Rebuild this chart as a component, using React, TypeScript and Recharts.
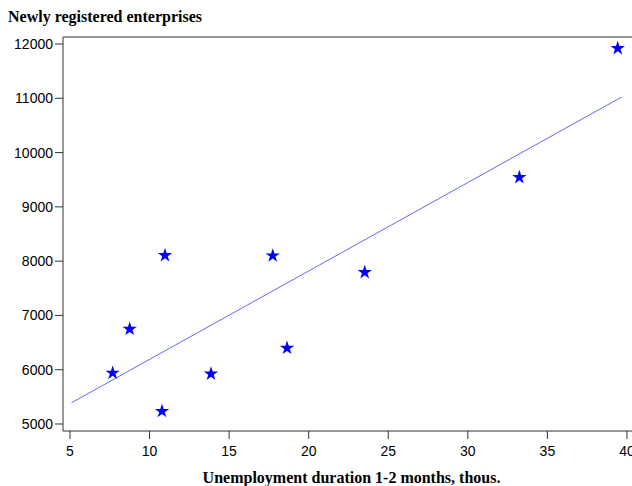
import React from "react";
import {
  ScatterChart,
  Scatter,
  XAxis,
  YAxis,
  ZAxis,
  ReferenceLine,
  Label,
} from "recharts";

// unemployment duration 1-2 months (thous.) vs newly registered enterprises
const unemployment = [7.68, 8.75, 10.78, 10.97, 13.86, 17.74, 18.64, 23.52, 33.24, 39.42];
const enterprises = [5940, 6750, 5235, 8105, 5925, 8100, 6400, 7795, 9545, 11920];

// fitted line end points
const trendX = [5.1, 39.67];
const trendY = [5392, 11023];

const xTicks = [5, 10, 15, 20, 25, 30, 35, 40];
const yTicks = [5000, 6000, 7000, 8000, 9000, 10000, 11000, 12000];

const points = unemployment.map((x, i) => ({ x, y: enterprises[i] }));
const trend = trendX.map((x, i) => ({ x, y: trendY[i] }));

const X_DOMAIN: [number, number] = [4.56, 40.82];
const Y_DOMAIN: [number, number] = [4871, 12129];

const tickStyle = { fontFamily: "Liberation Sans", fontSize: 14, fill: "#000" };
const serifBold = { fontFamily: "Liberation Serif", fontWeight: 700, fontSize: 16 };

const App: React.FC = () => {
  return (
    <div
      style={{
        position: "absolute",
        left: 0,
        top: 0,
        width: 632,
        height: 486,
        overflow: "hidden",
        background: "#fff",
      }}
    >
      <div
        style={{
          ...serifBold,
          position: "absolute",
          left: 8,
          top: 8,
          color: "#000",
          whiteSpace: "nowrap",
        }}
      >
        Newly registered enterprises
      </div>
      <ScatterChart
        width={645}
        height={486}
        margin={{ top: 37, right: 5, bottom: 0, left: 0 }}
      >
        <XAxis
          type="number"
          dataKey="x"
          domain={X_DOMAIN}
          ticks={xTicks}
          allowDataOverflow
          height={55}
          stroke="#333"
          tickSize={8}
          tick={{ ...tickStyle, dy: 5 }}
          tickLine={{ stroke: "#333" }}
        >
          <Label
            value="Unemployment duration 1-2 months, thous."
            position="insideBottom"
            offset={3}
            style={{ ...serifBold, fill: "#000" }}
          />
        </XAxis>
        <YAxis
          type="number"
          dataKey="y"
          domain={Y_DOMAIN}
          ticks={yTicks}
          allowDataOverflow
          width={63}
          stroke="#333"
          tickSize={8}
          tick={tickStyle}
          tickLine={{ stroke: "#333" }}
        />
        <ZAxis range={[24, 24]} />
        <ReferenceLine y={Y_DOMAIN[1]} stroke="#333" />
        <Scatter
          data={trend}
          line={{ stroke: "#6464ff", strokeWidth: 1 }}
          shape={() => null}
          isAnimationActive={false}
        />
        <Scatter
          data={points}
          shape="star"
          fill="#0000ff"
          isAnimationActive={false}
        />
      </ScatterChart>
    </div>
  );
};

export default App;
